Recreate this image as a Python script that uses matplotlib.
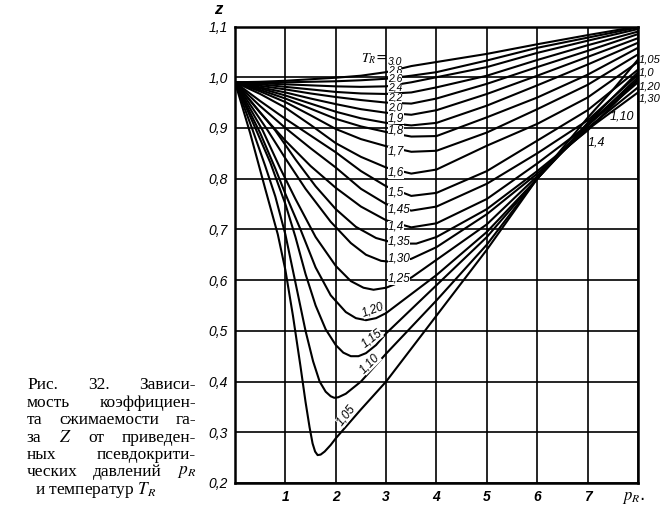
import matplotlib
matplotlib.use("Agg")
import matplotlib.pyplot as plt
from matplotlib import font_manager

# reduced pressure grid shared by the flatter curves
p_hi = [0, 0.5, 1, 1.5, 2, 2.5, 3, 3.5, 4, 5, 6, 7, 8]

z_30 = [0.99, 0.991, 0.993, 0.996, 0.999, 1.003, 1.010, 1.022, 1.030, 1.046, 1.065, 1.083, 1.100]
z_28 = [0.99, 0.990, 0.990, 0.991, 0.992, 0.994, 0.997, 1.003, 1.010, 1.033, 1.058, 1.078, 1.098]
z_26 = [0.99, 0.988, 0.986, 0.984, 0.982, 0.981, 0.982, 0.990, 1.000, 1.020, 1.048, 1.072, 1.095]
z_24 = [0.99, 0.986, 0.981, 0.976, 0.971, 0.968, 0.967, 0.970, 0.980, 1.003, 1.034, 1.063, 1.090]
z_22 = [0.99, 0.983, 0.976, 0.968, 0.961, 0.955, 0.950, 0.948, 0.958, 0.987, 1.020, 1.052, 1.085]
z_20 = [0.99, 0.980, 0.970, 0.958, 0.947, 0.937, 0.930, 0.926, 0.935, 0.967, 1.003, 1.040, 1.077]
z_19 = [0.99, 0.978, 0.964, 0.948, 0.932, 0.919, 0.910, 0.905, 0.910, 0.944, 0.984, 1.025, 1.068]
z_18 = [0.99, 0.975, 0.958, 0.938, 0.918, 0.903, 0.892, 0.883, 0.884, 0.921, 0.960, 1.005, 1.058]
z_17 = [0.99, 0.972, 0.951, 0.925, 0.898, 0.878, 0.864, 0.853, 0.855, 0.891, 0.937, 0.985, 1.045]
z_16 = [0.99, 0.967, 0.940, 0.906, 0.870, 0.843, 0.822, 0.810, 0.818, 0.865, 0.908, 0.960, 1.030]
z_150 = [0.99, 0.953, 0.918, 0.885, 0.852, 0.815, 0.785, 0.766, 0.772, 0.815, 0.875, 0.935, 1.015]
z_145 = [0.99, 0.943, 0.900, 0.860, 0.822, 0.780, 0.750, 0.737, 0.745, 0.790, 0.850, 0.915, 1.005]
z_140 = [0.99, 0.930, 0.875, 0.825, 0.782, 0.745, 0.718, 0.704, 0.712, 0.760, 0.830, 0.905, 1.000]

p_135 = [0, 0.8, 1.2, 1.6, 2.0, 2.4, 2.8, 3.2, 3.6, 4, 5, 6, 7, 8]
z_135 = [0.99, 0.895, 0.838, 0.785, 0.740, 0.705, 0.683, 0.672, 0.672, 0.685, 0.740, 0.815, 0.895, 0.995]

p_130 = [0, 0.65, 1.0, 1.4, 1.9, 2.3, 2.6, 2.9, 3.2, 3.5, 4, 5, 6, 7, 8]
z_130 = [0.99, 0.895, 0.840, 0.780, 0.715, 0.673, 0.650, 0.638, 0.635, 0.642, 0.665, 0.730, 0.810, 0.897, 0.970]

p_125 = [0, 0.55, 0.9, 1.2, 1.6, 2.0, 2.3, 2.55, 2.75, 3.0, 3.5, 4, 5, 6, 7, 8]
z_125 = [0.99, 0.895, 0.820, 0.760, 0.685, 0.628, 0.598, 0.585, 0.581, 0.585, 0.605, 0.640, 0.710, 0.805, 0.900, 0.980]

p_120 = [0, 0.5, 0.8, 1.0, 1.3, 1.6, 1.9, 2.2, 2.4, 2.6, 2.8, 3.0, 4, 5, 6, 7, 8]
z_120 = [0.99, 0.890, 0.820, 0.770, 0.700, 0.625, 0.570, 0.537, 0.525, 0.521, 0.525, 0.535, 0.610, 0.695, 0.800, 0.905, 0.990]

p_115 = [0, 0.42, 0.7, 1.0, 1.2, 1.4, 1.6, 1.8, 2.0, 2.15, 2.3, 2.45, 2.6, 2.8, 3.0, 4, 5, 6, 7, 8]
z_115 = [0.99, 0.896, 0.832, 0.750, 0.685, 0.612, 0.550, 0.503, 0.472, 0.457, 0.450, 0.450, 0.456, 0.472, 0.495, 0.590, 0.685, 0.800, 0.908, 0.995]

p_110 = [0, 0.35, 0.6, 0.8, 1.0, 1.2, 1.4, 1.55, 1.68, 1.8, 1.9, 1.97, 2.05, 2.2, 2.5, 3, 4, 5, 6, 7, 8]
z_110 = [0.99, 0.896, 0.825, 0.765, 0.690, 0.595, 0.500, 0.440, 0.400, 0.380, 0.371, 0.368, 0.369, 0.376, 0.400, 0.455, 0.560, 0.670, 0.800, 0.910, 1.010]

p_105 = [0, 0.3, 0.6, 0.85, 1.0, 1.15, 1.3, 1.4, 1.48, 1.54, 1.59, 1.64, 1.7, 1.78, 1.9, 2.0, 2.5, 3, 4, 5, 6, 7, 7.5, 8]
z_105 = [0.99, 0.890, 0.780, 0.690, 0.620, 0.530, 0.430, 0.360, 0.310, 0.278, 0.262, 0.255, 0.256, 0.262, 0.275, 0.288, 0.345, 0.400, 0.530, 0.660, 0.800, 0.920, 0.975, 1.035]

curves = [
    (p_hi, z_30), (p_hi, z_28), (p_hi, z_26), (p_hi, z_24), (p_hi, z_22),
    (p_hi, z_20), (p_hi, z_19), (p_hi, z_18), (p_hi, z_17), (p_hi, z_16),
    (p_hi, z_150), (p_hi, z_145), (p_hi, z_140), (p_135, z_135),
    (p_130, z_130), (p_125, z_125), (p_120, z_120), (p_115, z_115),
    (p_110, z_110), (p_105, z_105),
]

# T_R labels written on the curves
col_labels = ["3,0", "2,8", "2,6", "2,4", "2,2", "2,0", "1,9", "1,8", "1,7",
              "1,6", "1,5", "1,45", "1,4", "1,35", "1,30", "1,25"]
col_z = [1.031, 1.014, 0.998, 0.980, 0.960, 0.941, 0.919, 0.894, 0.853,
         0.812, 0.773, 0.739, 0.705, 0.676, 0.643, 0.603]
low_labels = ["1,20", "1,15", "1,10", "1,05"]
low_p = [2.74, 2.71, 2.68, 2.21]
low_z = [0.541, 0.485, 0.436, 0.334]
low_rot = [20, 38, 45, 52]
edge_labels = ["1,05", "1,0", "1,20", "1,30"]
edge_z = [1.034, 1.010, 0.981, 0.958]

y_ticks = [0.2, 0.3, 0.4, 0.5, 0.6, 0.7, 0.8, 0.9, 1.0, 1.1]
y_tick_labels = ["0,2", "0,3", "0,4", "0,5", "0,6", "0,7", "0,8", "0,9", "1,0", "1,1"]
x_ticks = [0, 1, 2, 3, 4, 5, 6, 7, 8]
x_tick_labels = ["", "1", "2", "3", "4", "5", "6", "7", ""]

caption = [
    ["Рис.", "32.", "Зависи-"],
    ["мость", "коэффициен-"],
    ["та", "сжимаемости", "га-"],
    ["за", "$Z$", "от", "приведен-"],
    ["ных", "псевдокрити-"],
    ["ческих", "давлений", "$p_R$"],
]
caption_last = "и температур $T_R$"

names = {f.name for f in font_manager.fontManager.ttflist}
lab_font = "Liberation Sans Narrow" if "Liberation Sans Narrow" in names else "Liberation Sans"
plt.rcParams["mathtext.fontset"] = "stix"

W, H = 661, 526
fig = plt.figure(figsize=(W / 100, H / 100), dpi=100)
ax = fig.add_axes([235 / W, 1 - 483 / H, (638 - 235) / W, (483 - 26.5) / H])

for p, z in curves:
    ax.plot(p, z, color="black", lw=1.5, solid_joinstyle="round", zorder=2)

ax.set_xlim(0, 8)
ax.set_ylim(0.2, 1.1)
ax.set_xticks(x_ticks)
ax.set_xticklabels(x_tick_labels, fontstyle="italic", fontweight="bold",
                   fontsize=10, family=lab_font)
ax.set_yticks(y_ticks)
ax.set_yticklabels(y_tick_labels, fontstyle="italic", fontsize=10, family=lab_font)
ax.tick_params(length=0, pad=5)
ax.grid(True, color="black", lw=1.2, zorder=1)
ax.set_axisbelow(True)
for s in ax.spines.values():
    s.set_linewidth(1.8)

lab_kw = dict(fontstyle="italic", family=lab_font, zorder=5,
              bbox=dict(facecolor="white", edgecolor="none", pad=0.0))
# the top labels sit very close together, so they are set a bit smaller
for i, (t, z) in enumerate(zip(col_labels, col_z)):
    ax.text(3.03, z, t, ha="left", va="center",
            fontsize=7.5 if i < 6 else 8.5, **lab_kw)
ax.text(3.02, 1.036, "$T_R$=", ha="right", va="center", fontsize=10, zorder=5)
for t, p, z, r in zip(low_labels, low_p, low_z, low_rot):
    ax.text(p, z, t, ha="center", va="center", rotation=r,
            rotation_mode="anchor", fontsize=8.5, **lab_kw)
for t, z in zip(edge_labels, edge_z):
    ax.text(8.02, z, t, ha="left", va="center", fontsize=8,
            fontstyle="italic", family=lab_font, clip_on=False)
ax.text(7.68, 0.922, "1,10", ha="center", va="center", fontsize=9,
        fontstyle="italic", family=lab_font)
ax.text(7.18, 0.872, "1,4", ha="center", va="center", fontsize=9,
        fontstyle="italic", family=lab_font)
ax.text(7.92, 0.19, "$p_R$.", ha="center", va="top", fontsize=12, clip_on=False)
fig.text(218 / W, 1 - 9 / H, "z", ha="center", va="center", fontsize=12,
         fontstyle="italic", fontweight="bold", family=lab_font)

# caption, justified by hand between two edges
cap_kw = dict(fontsize=12.5, family="Liberation Serif", va="center")
x_left, x_right = 27, 196
line_y = [385, 403, 420, 438, 455, 472]
fig.canvas.draw()
renderer = fig.canvas.get_renderer()
for words, y in zip(caption, line_y):
    texts = [fig.text(0, 1 - y / H, w, ha="left", **cap_kw) for w in words]
    widths = [t.get_window_extent(renderer).width for t in texts]
    gap = (x_right - x_left - sum(widths)) / (len(words) - 1)
    x = x_left
    for t, w in zip(texts, widths):
        t.set_x(x / W)
        x += w + gap
fig.text(35 / W, 1 - 490 / H, caption_last, ha="left", **cap_kw)

fig.savefig("out.png", dpi=100)
